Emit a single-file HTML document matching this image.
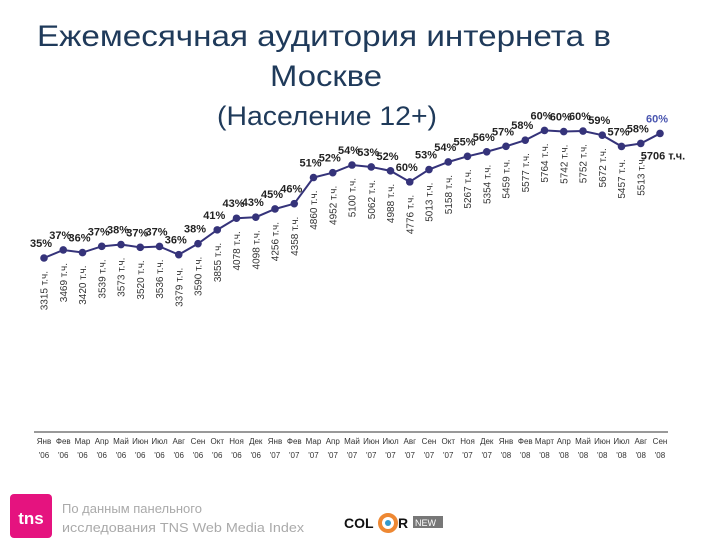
<!DOCTYPE html>
<html><head><meta charset="utf-8">
<style>
body{margin:0;width:720px;height:540px;background:#fff;overflow:hidden;position:relative;font-family:"Liberation Sans","Noto Sans CJK SC",sans-serif;}
svg{position:absolute;left:0;top:0}
</style></head>
<body>
<svg width="720" height="540" viewBox="0 0 720 540">
<text x="324" y="46" text-anchor="middle" font-size="30" fill="#1f3a5a" textLength="574" lengthAdjust="spacingAndGlyphs">Ежемесячная аудитория интернета в</text>
<text x="326" y="86" text-anchor="middle" font-size="30" fill="#1f3a5a" textLength="112" lengthAdjust="spacingAndGlyphs">Москве</text>
<text x="327" y="125" text-anchor="middle" font-size="27" fill="#1f3a5a" textLength="220" lengthAdjust="spacingAndGlyphs">(Население 12+)</text>
<line x1="34" y1="432" x2="668" y2="432" stroke="#333" stroke-width="1"/>
<g id="plot"></g>
<rect x="10" y="494" width="42" height="44" rx="4" fill="#e5137f"/>
<text x="31" y="524" text-anchor="middle" font-size="17" font-weight="bold" fill="#fff">tns</text>
<text x="62" y="513" font-size="13" fill="#aaa">По данным панельного</text>
<text x="62" y="532" font-size="13" fill="#aaa" textLength="242" lengthAdjust="spacingAndGlyphs">исследования TNS Web Media Index</text>
<g>
<text x="344" y="528" font-size="14" font-weight="bold" fill="#111">COL</text>
<circle cx="388" cy="523" r="8" fill="none" stroke="#e83" stroke-width="4"/>
<circle cx="388" cy="523" r="3" fill="#39c"/>
<text x="398" y="528" font-size="14" font-weight="bold" fill="#111">R</text>
<rect x="413" y="516" width="30" height="12" fill="#777"/>
<text x="415" y="526" font-size="9" fill="#fff">NEW</text>
</g>
</svg>
<script>
const months=["Янв","Фев","Мар","Апр","Май","Июн","Июл","Авг","Сен","Окт","Ноя","Дек","Янв","Фев","Мар","Апр","Май","Июн","Июл","Авг","Сен","Окт","Ноя","Дек","Янв","Фев","Март","Апр","Май","Июн","Июл","Авг","Сен"];
const years=["'06","'06","'06","'06","'06","'06","'06","'06","'06","'06","'06","'06","'07","'07","'07","'07","'07","'07","'07","'07","'07","'07","'07","'07","'08","'08","'08","'08","'08","'08","'08","'08","'08"];
const audience=[3315,3469,3420,3539,3573,3520,3536,3379,3590,3855,4078,4098,4256,4358,4860,4952,5100,5062,4988,4776,5013,5158,5267,5354,5459,5577,5764,5742,5752,5672,5457,5513,5706];
const pct=[35,37,36,37,38,37,37,36,38,41,43,43,45,46,51,52,54,53,52,60,53,54,55,56,57,58,60,60,60,59,57,58,60];
const NS="http://www.w3.org/2000/svg";
const g=document.getElementById('plot');
const xS=i=>44+i*19.25;
const yS=v=>258-(v-3315)*0.0521;
function mk(t,a){const e=document.createElementNS(NS,t);for(const k in a)e.setAttribute(k,a[k]);return e;}
let d="";
audience.forEach((v,i)=>{d+=(i?"L":"M")+xS(i)+","+yS(v);});
const line=mk("path",{d:d,fill:"none",stroke:"#35337a","stroke-width":2});


g.appendChild(line);
audience.forEach((v,i)=>{
 const x=xS(i),y=yS(v);
 const c=mk("circle",{cx:x,cy:y,r:3.8,fill:"#35337a"});
 
 
 g.appendChild(c);
 const p=mk("text",{x:x-3,y:y-11,"text-anchor":"middle","font-size":11,"font-weight":"bold",fill:i==audience.length-1?"#4a56b0":"#222"});
 p.textContent=pct[i]+"%";
 
 
 g.appendChild(p);
 let vt;
 if(i==audience.length-1){
  vt=mk("text",{x:x+3,y:y+26,"text-anchor":"middle","font-size":11,"font-weight":"bold",fill:"#222"});
 }else{
  vt=mk("text",{x:0,y:0,"text-anchor":"end","font-size":10,fill:"#333",transform:"translate("+(x+3.5)+","+(y+13)+") rotate(-90)"});
 }
 vt.textContent=v+" т.ч.";
 
 
 g.appendChild(vt);
 const m=mk("text",{x:x,y:444,"text-anchor":"middle","font-size":8,fill:"#333"});
 m.textContent=months[i];
 
 
 g.appendChild(m);
 const yr=mk("text",{x:x,y:458,"text-anchor":"middle","font-size":8,fill:"#333"});
 yr.textContent=years[i];
 
 
 g.appendChild(yr);
});
</script>
</body></html>
